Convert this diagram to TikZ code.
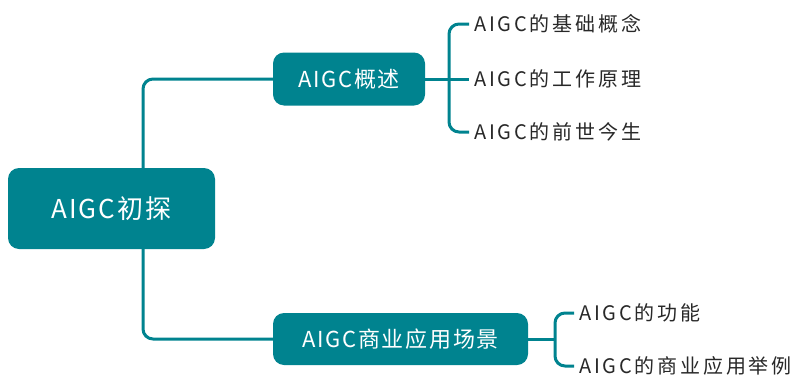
\documentclass[tikz,border=0pt]{standalone}
\usepackage{fontspec}
\newfontfamily\cjkbox[LetterSpace=8]{Noto Sans CJK SC}
\newfontfamily\cjkleaf[LetterSpace=14]{Noto Sans CJK SC}
\usepackage{tikz}
\usetikzlibrary{positioning}
\definecolor{teal1}{RGB}{0,131,143}
\definecolor{leaftext}{RGB}{40,40,40}
\tikzset{
	topic/.style={fill=teal1, rounded corners=11pt, text=white, font=\cjkbox\fontsize{22}{22}\selectfont, inner sep=0pt},
	leaf/.style={anchor=west, text=leaftext, font=\cjkleaf\fontsize{20}{20}\selectfont, inner sep=5pt},
	link/.style={draw=teal1, line width=3pt, rounded corners=10pt}
}

\begin{document}
\begin{tikzpicture}[x=1pt, y=-1pt]
	\useasboundingbox (0,0) rectangle (798,375);
	
      \node[topic, minimum width=207pt, minimum height=81pt, font=\cjkbox\fontsize{26}{26}\selectfont] (root) at (111.5,208.5) {AIGC初探};
      \node[topic, minimum width=152pt, minimum height=53pt] (ov) at (349,79) {AIGC概述};
      \node[topic, minimum width=255pt, minimum height=52pt] (biz) at (400.5,339) {AIGC商业应用场景};
      
      \node[leaf] (L1) at (469,24) {AIGC的基础概念};
      \node[leaf] (L2) at (469,79) {AIGC的工作原理};
      \node[leaf] (L3) at (469,132) {AIGC的前世今生};
      \node[leaf] (L4) at (574,313) {AIGC的功能};
      \node[leaf] (L5) at (574,366) {AIGC的商业应用举例};
      
      \coordinate (T) at (143,0);
      \coordinate (B1) at (449,0);
      \coordinate (B2) at (555,0);
      
      \draw[link](root.north -| T) |- (ov.west) ;
      \draw[link](root.south -| T) |- (biz.west) ;
      
      \draw[link](ov.east) -- (L2.west) ;
      \draw[link](L1.west) -| (B1 |- L2.west) |- (L3.west) ;
      
      \draw[link](biz.east) -- (B2 |- biz.east) ;
      \draw[link](L4.west) -| (B2 |- biz.east) |- (L5.west) ;
      \end{tikzpicture}
\end{document}
